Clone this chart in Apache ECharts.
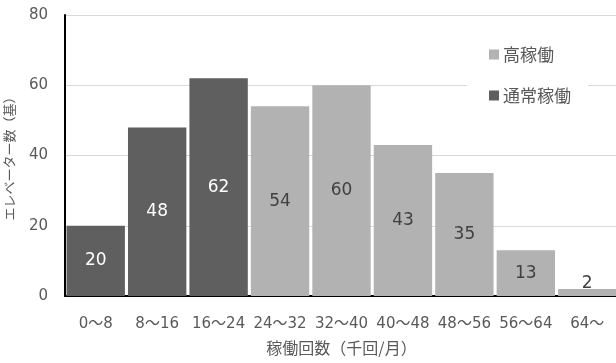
<!DOCTYPE html>
<html>
<head>
<meta charset="utf-8">
<script src="https://cdn.jsdelivr.net/npm/echarts@6/dist/echarts.min.js"></script>
<style>
  html, body { margin: 0; padding: 0; background: #fff; }
  #chart { width: 616px; height: 363px; }
</style>
</head>
<body>
<div id="chart"></div>
<script>
// Elevator count by monthly operation count (thousand trips / month)
const categories = ['0〜8', '8〜16', '16〜24', '24〜32', '32〜40', '40〜48', '48〜56', '56〜64', '64〜'];
const normalUse = [20, 48, 62, null, null, null, null, null, null];
const heavyUse = [null, null, null, 54, 60, 43, 35, 13, 2];
const yTicks = [0, 20, 40, 60, 80];

const FONT = "'DejaVu Sans', 'Noto Sans CJK JP', sans-serif";
const CJK = "'Noto Sans CJK JP', sans-serif";
const TEXT = '#595959';

function labelled(values) {
  return values.map(v => {
    if (v === null) return null;
    // very short bars carry their label just above the bar
    return v < 5
      ? { value: v, label: { position: 'top', distance: 0, offset: [0, 3] } }
      : v;
  });
}

const chart = echarts.init(document.getElementById('chart'), null, { renderer: 'canvas' });
chart.setOption({
  animation: false,
  textStyle: { fontFamily: FONT },
  grid: { left: 65, right: -2, top: 15, bottom: 67, containLabel: false, outerBoundsMode: 'none' },
  legend: {
    data: ['高稼働', '通常稼働'],
    orient: 'vertical',
    left: 467,
    top: 36,
    padding: [10, 17, 10, 22],
    itemGap: 24,
    itemWidth: 10,
    itemHeight: 10,
    icon: 'rect',
    backgroundColor: '#fff',
    textStyle: { fontSize: 17, color: TEXT, fontFamily: CJK, padding: [0, 0, 0, -1] }
  },
  xAxis: {
    type: 'category',
    data: categories,
    name: '稼働回数（千回/月）',
    nameLocation: 'middle',
    nameGap: 44,
    nameMoveOverlap: false,
    nameTextStyle: { fontSize: 16, color: TEXT, fontFamily: CJK },
    axisLine: { lineStyle: { color: '#000', width: 2 } },
    axisTick: { show: false },
    axisLabel: { fontSize: 15, color: TEXT, margin: 21, interval: 0, fontFamily: FONT }
  },
  yAxis: {
    type: 'value',
    min: yTicks[0],
    max: yTicks[yTicks.length - 1],
    interval: 20,
    name: 'エレベーター数（基）',
    nameLocation: 'middle',
    nameGap: 49,
    nameMoveOverlap: false,
    nameRotate: 90,
    nameTextStyle: { fontSize: 13, color: TEXT, fontFamily: CJK },
    axisLine: { show: true, lineStyle: { color: '#000', width: 2 } },
    axisTick: { show: false },
    axisLabel: { fontSize: 15, color: TEXT, margin: 17, fontFamily: FONT },
    splitLine: { lineStyle: { color: '#d9d9d9', width: 1 } }
  },
  series: [
    {
      name: '通常稼働',
      type: 'bar',
      stack: 'count',
      data: labelled(normalUse),
      barCategoryGap: '5%',
      itemStyle: { color: '#5f5f5f' },
      label: { show: true, position: 'inside', color: '#fff', fontSize: 17, fontFamily: FONT }
    },
    {
      name: '高稼働',
      type: 'bar',
      stack: 'count',
      data: labelled(heavyUse),
      barCategoryGap: '5%',
      itemStyle: { color: '#b2b2b2' },
      label: { show: true, position: 'inside', color: '#404040', fontSize: 17, fontFamily: FONT }
    }
  ]
});
</script>
</body>
</html>
